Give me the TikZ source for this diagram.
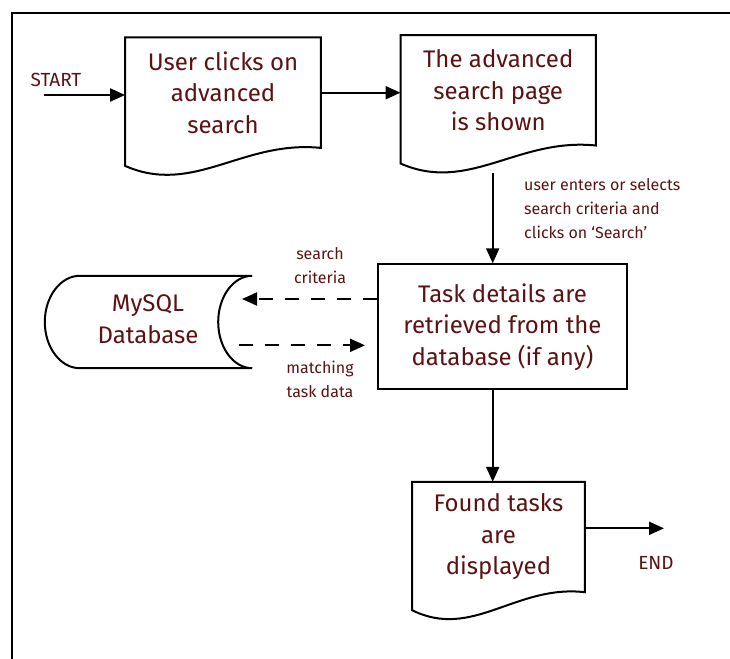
\documentclass[tikz,border=0pt]{standalone}
\usepackage{fontspec}
\setmainfont{Fira Sans}
\usetikzlibrary{arrows.meta,calc}
\definecolor{txt}{RGB}{92,18,18}

% outline of a "document" symbol: flat top, wavy bottom
\newcommand\docoutline[1]{%
  \draw[outline] (#1.north west) -- (#1.north east) -- (#1.south east)
    .. controls ($(#1.south west)!0.6!(#1.south east)+(0,-8)$)
           and ($(#1.south west)!0.35!(#1.south east)+(0,48)$)
    .. ($(#1.south west)+(0,18)$) -- cycle;}

\begin{document}
\begin{tikzpicture}[x=1pt,y=-1pt,
  outline/.style={line width=2pt, line join=miter},
  border/.style={line width=2.5pt},
  bigtext/.style={text=txt, font=\fontsize{24}{31.5}\selectfont, align=center},
  lbl/.style={text=txt, font=\fontsize{16}{24}\selectfont, inner sep=0pt},
  caps/.style={lbl, font=\fontsize{19}{24}\selectfont},
  docbox/.style={bigtext, draw=none, minimum height=110, inner sep=0pt},
  procbox/.style={bigtext, outline, draw, inner sep=0pt},
  dbbox/.style={bigtext, draw=none, inner sep=0pt},
  arr/.style={line width=2pt, -{Triangle[length=15pt,width=13pt]}},
  darr/.style={arr, dash pattern=on 14pt off 12pt}]

\useasboundingbox (0,0) rectangle (730,658);

% frame
\draw[border] (12,672) -- (12,13) -- (745,13);

% process steps
\node[docbox, minimum width=195.4] (box1) at (223,92.7) {User clicks on\\advanced\\search};
\node[docbox, minimum width=195] (box2) at (498.2,90.3) {The advanced\\search page\\is shown};
\node[procbox, minimum width=249, minimum height=125] (task) at (502.5,326.8)
  {Task details are\\retrieved from the\\database (if any)};
\node[docbox, minimum width=172.4] (box4) at (498.5,537) {Found tasks\\are\\displayed};
\node[dbbox, minimum width=172, minimum height=92] (db) at (166,322) {};
\node[bigtext] (dbtext) at (148,319) {MySQL\\Database};

\docoutline{box1}
\docoutline{box2}
\docoutline{box4}

% stored data symbol
\draw[outline] (db.north east) -- (db.north west)
  .. controls ($(db.north west)+(-19.3,0)$) and ($(db.west)+(-35,-25.4)$) .. ($(db.west)+(-35,0)$)
  .. controls ($(db.west)+(-35,25.4)$) and ($(db.south west)+(-19.3,0)$) .. (db.south west)
  -- (db.south east)
  .. controls ($(db.south east)+(-18.8,0)$) and ($(db.east)+(-34,25.4)$) .. ($(db.east)+(-34,0)$)
  .. controls ($(db.east)+(-34,-25.4)$) and ($(db.north east)+(-18.8,0)$) .. (db.north east);

% labels
\node[caps] (start) at (56,80) {START};
\node[lbl, anchor=west, align=left] (crit) at (524,209)
  {user enters or selects\\search criteria and\\clicks on ‘Search’};
\node[lbl, align=center] (sc) at (320,266) {search\\criteria};
\node[lbl, align=center] (mt) at (320,379) {matching\\task data};
\node[caps] (endl) at (656,563) {END};

% connectors
\coordinate (s0) at (44,95);
\coordinate (v0) at (492.7,172.7);
\coordinate (sctip) at (242,299);
\coordinate (mt0) at (239,345.3);
\coordinate (mt1) at (365,345.3);
\coordinate (e1) at (664,528.3);

\draw[arr] (s0) -- (s0 -| box1.west);
\draw[arr] (box1.east) -- (box1.east -| box2.west);
\draw[arr] (v0) -- (v0 |- task.north);
\draw[darr] (task.west |- sctip) -- (sctip);
\draw[darr] (mt0) -- (mt1);
\draw[arr] (task.south -| v0) -- (v0 |- box4.north);
\draw[arr] (e1 -| box4.east) -- (e1);
\end{tikzpicture}
\end{document}
